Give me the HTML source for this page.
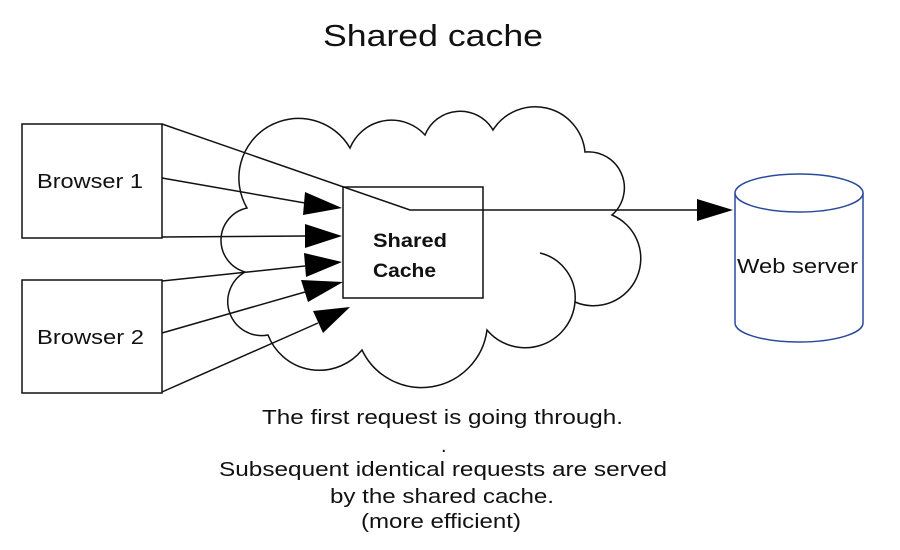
<!DOCTYPE html>
<html><head><meta charset="utf-8"><style>body{margin:0;background:#fff}</style></head><body>
<svg width="900" height="550" xmlns="http://www.w3.org/2000/svg" style="display:block">
<rect width="900" height="550" fill="#fff"/>
<text x="323" y="46" font-family="Liberation Sans, sans-serif" font-size="31" textLength="220" lengthAdjust="spacingAndGlyphs" fill="#111">Shared cache</text>
<path d="M247,208 A58,58 0 0 1 350,148 A45,45 0 0 1 425,135 A38,38 0 0 1 493,130 A50,50 0 0 1 585,152 A36,36 0 0 1 612,215 A46,46 0 0 1 575,302 A50,50 0 0 1 487,330 A66,66 0 0 1 362,350 A55,55 0 0 1 268,335 A34,34 0 0 1 245,272 A33,33 0 0 1 247,208 Z" fill="#fff" stroke="#111" stroke-width="1.5"/>
<g fill="none" stroke="#111" stroke-width="1.5">
<path d="M540,253 A46,46 0 0 1 575,302"/>
</g>
<rect x="22" y="124" width="140" height="114" fill="#fff" stroke="#111" stroke-width="1.5"/>
<rect x="22" y="280" width="140" height="113" fill="#fff" stroke="#111" stroke-width="1.5"/>
<text x="37" y="188" font-family="Liberation Sans, sans-serif" font-size="20" textLength="106" lengthAdjust="spacingAndGlyphs" fill="#111">Browser 1</text>
<text x="37" y="344" font-family="Liberation Sans, sans-serif" font-size="20" textLength="107" lengthAdjust="spacingAndGlyphs" fill="#111">Browser 2</text>
<rect x="343" y="187" width="140" height="111" fill="#fff" stroke="#111" stroke-width="1.5"/>
<text x="373" y="247" font-family="Liberation Sans, sans-serif" font-size="19" font-weight="bold" textLength="74" lengthAdjust="spacingAndGlyphs" fill="#111">Shared</text>
<text x="373" y="277" font-family="Liberation Sans, sans-serif" font-size="19" font-weight="bold" textLength="63" lengthAdjust="spacingAndGlyphs" fill="#111">Cache</text>
<g stroke="#111" stroke-width="1.5" fill="none">
<polyline points="162,124 410,210 700,210"/>
<line x1="162" y1="178" x2="305" y2="203"/>
<line x1="162" y1="237" x2="305" y2="236"/>
<line x1="162" y1="281" x2="305" y2="266"/>
<line x1="162" y1="333" x2="305" y2="292"/>
<line x1="162" y1="392" x2="318" y2="323"/>
</g>
<g fill="#000">
<polygon points="733,210 697,199 697,221"/>
<polygon points="342,208 305,192 303,215"/>
<polygon points="342,236 305,224 305,248"/>
<polygon points="342,262 304,253 306,277"/>
<polygon points="343,282 301,280 308,302"/>
<polygon points="350,307 313,311 323,333"/>
</g>
<g fill="#fff" stroke="#2a4a9a" stroke-width="1.5">
<path d="M735,193 L735,323 A64,19 0 0 0 863,323 L863,193"/>
<ellipse cx="799" cy="193" rx="64" ry="19"/>
</g>
<text x="737" y="273" font-family="Liberation Sans, sans-serif" font-size="20" textLength="121" lengthAdjust="spacingAndGlyphs" fill="#111">Web server</text>
<g font-family="Liberation Sans, sans-serif" font-size="20" fill="#111" lengthAdjust="spacingAndGlyphs">
<text x="262" y="424" textLength="361" lengthAdjust="spacingAndGlyphs">The first request is going through.</text>
<text x="441" y="452">.</text>
<text x="219" y="476" textLength="448" lengthAdjust="spacingAndGlyphs">Subsequent identical requests are served</text>
<text x="330" y="503" textLength="224" lengthAdjust="spacingAndGlyphs">by the shared cache.</text>
<text x="361" y="528" textLength="160" lengthAdjust="spacingAndGlyphs">(more efficient)</text>
</g>
</svg>
</body></html>
